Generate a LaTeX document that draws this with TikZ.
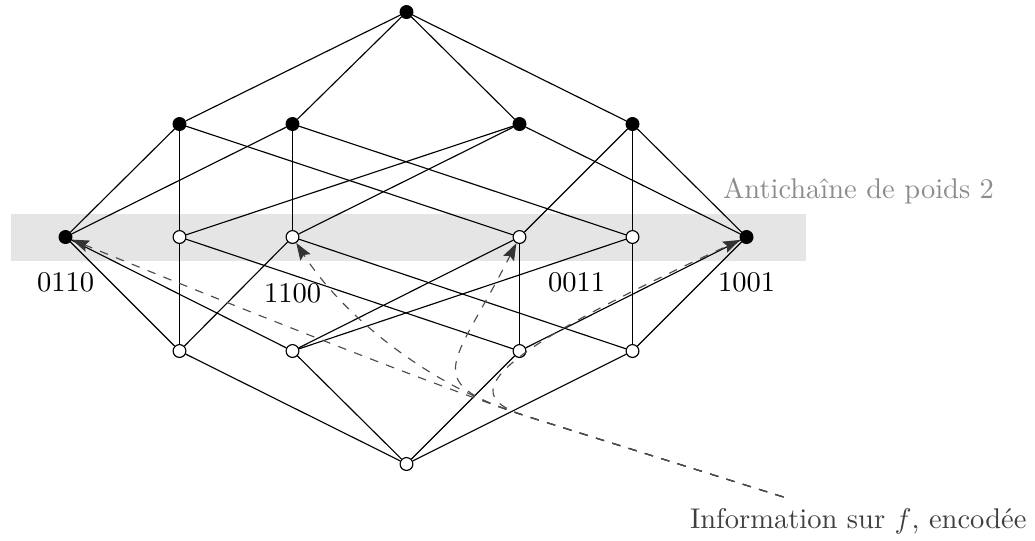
\documentclass[tikz,border=0pt]{standalone}
\usetikzlibrary{arrows.meta}
\begin{document}
\begin{tikzpicture}[x=0.35088pt,y=-0.35088pt,
  vtx/.style={circle,draw=black,line width=0.4pt,inner sep=0pt,minimum size=4.5pt},
  full/.style={vtx,fill=black},
  empty/.style={vtx,fill=white},
  edge/.style={line width=0.4pt,draw=black},
  info/.style={dashed,line width=0.4pt,draw=black!70,
    -{Stealth[length=6pt,width=4.2pt,inset=1pt,color=black!80]}},
  lab/.style={font=\fontsize{10}{12}\selectfont,inner sep=0pt}]
\useasboundingbox (0,0) rectangle (1035,540);
\begin{scope}[shift={(0.5,0)}]
\fill[gray!20] (10,214) rectangle (805,261);
% vertices
\node[full] (top) at (406,12) {};
\node[full] (t1) at (179,124) {};
\node[full] (t2) at (292,124) {};
\node[full] (t3) at (519,124) {};
\node[full] (t4) at (632,124) {};
\node[full]  (a) at (65,237) {};
\node[empty] (b) at (179,237) {};
\node[empty] (c) at (292,237) {};
\node[empty] (d) at (519,237) {};
\node[empty] (e) at (632,237) {};
\node[full]  (f) at (746,237) {};
\node[empty] (l1) at (179,351) {};
\node[empty] (l2) at (292,351) {};
\node[empty] (l3) at (519,351) {};
\node[empty] (l4) at (632,351) {};
\node[empty] (bot) at (406,464) {};
% edges
\foreach \u/\v in {top/t1,top/t2,top/t3,top/t4,
  t1/a,t1/b,t1/d, t2/a,t2/c,t2/e, t3/b,t3/c,t3/f, t4/d,t4/e,t4/f,
  l1/a,l1/b,l1/c, l2/a,l2/d,l2/e, l3/b,l3/d,l3/f, l4/c,l4/e,l4/f,
  bot/l1,bot/l2,bot/l3,bot/l4}
  \draw[edge] (\u) -- (\v);
% labels
\node[lab] (la) at (65,282) {0110};
\node[lab] (lc) at (292,293) {1100};
\node[lab] (ld) at (576,282) {0011};
\node[lab] (lf) at (746,282) {1001};
\node[lab,text=black!45,anchor=base west] (anti) at (722,198) {Antichaîne de poids 2};
\node[lab,text=black!75,anchor=base west] (infotext) at (689,528) {Information sur $f$, encodée};
\coordinate (s) at (783,497);
\coordinate (ja) at (540,420.6);
\coordinate (jc) at (520,414.3);
\coordinate (jd) at (530,417.4);
\coordinate (jf) at (525,415.9);
% dashed arrows
\draw[info] (s) -- (ja) .. controls (444.6,390.6) and (204,294) .. (a);
\draw[info] (s) -- (jc) .. controls (434.1,387.3) and (345,320) .. (c);
\draw[info] (s) -- (jd) .. controls (415.5,381.4) and (451.5,370.5) .. (d);
\draw[info] (s) -- (jf) .. controls (458.2,394.9) and (480,360) .. (f);
\end{scope}
\end{tikzpicture}
\end{document}
